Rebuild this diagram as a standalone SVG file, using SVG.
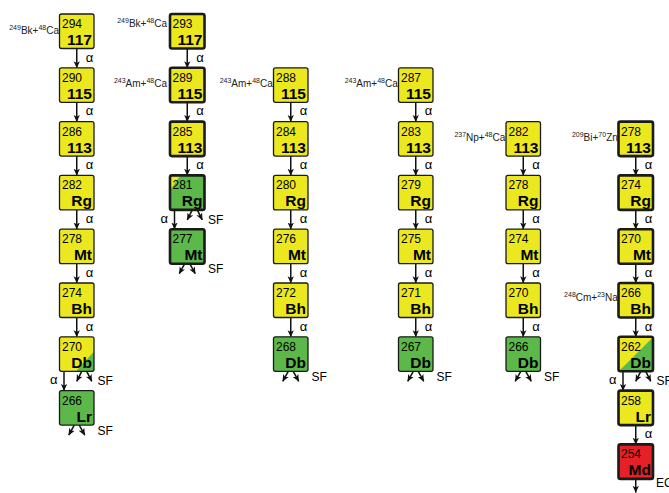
<svg xmlns="http://www.w3.org/2000/svg" width="669" height="493" viewBox="0 0 669 493">
<defs>
<marker id="ah" viewBox="0 0 10 10" refX="9.5" refY="5" markerWidth="7" markerHeight="7" markerUnits="userSpaceOnUse" orient="auto">
<path d="M0,0.5 L10,5 L0,9.5 L2.5,5 z" fill="#111"/>
</marker>
</defs>
<style>
.bx{stroke:#1a1a1a;stroke-width:1.3}
.thick .bx{stroke-width:2.6}
.ol{fill:none}
.y{fill:#ece81f}
.g{fill:#5cb848}
.r{fill:#e52127}
text{font-family:"Liberation Sans",Arial,sans-serif;fill:#000}
.m{font-size:12px}
.s{font-size:15.5px;font-weight:bold;text-anchor:end}
.lab{font-size:10px;text-anchor:end;fill:#222}
.sup{font-size:7px}
.a{font-size:13px}
.ae{font-size:13px;text-anchor:end}
.sf{font-size:12px}
#connectors line{stroke:#111;stroke-width:1.5;marker-end:url(#ah)}
</style>
<rect width="669" height="493" fill="#fff"/>

<g id="connectors">
<!-- column 1 -->
<line x1="76.75" y1="48.5" x2="76.75" y2="67.8"/>
<line x1="76.75" y1="102.3" x2="76.75" y2="121.6"/>
<line x1="76.75" y1="156.1" x2="76.75" y2="175.4"/>
<line x1="76.75" y1="209.9" x2="76.75" y2="229.2"/>
<line x1="76.75" y1="263.7" x2="76.75" y2="283"/>
<line x1="76.75" y1="317.5" x2="76.75" y2="336.8"/>
<line x1="64" y1="371.3" x2="64" y2="390.6"/>
<line x1="81.75" y1="371.3" x2="76.75" y2="381.3"/>
<line x1="86.75" y1="371.3" x2="91.75" y2="381.3"/>
<line x1="74.25" y1="425.1" x2="68.75" y2="435.1"/>
<line x1="79.25" y1="425.1" x2="84.75" y2="435.1"/>
<!-- column 2 -->
<line x1="187.25" y1="48.5" x2="187.25" y2="67.8"/>
<line x1="187.25" y1="102.3" x2="187.25" y2="121.6"/>
<line x1="187.25" y1="156.1" x2="187.25" y2="175.4"/>
<line x1="174.5" y1="209.9" x2="174.5" y2="229.2"/>
<line x1="192.25" y1="209.9" x2="187.25" y2="219.9"/>
<line x1="197.25" y1="209.9" x2="202.25" y2="219.9"/>
<line x1="184.75" y1="263.7" x2="179.25" y2="273.7"/>
<line x1="189.75" y1="263.7" x2="195.25" y2="273.7"/>
<!-- column 3 -->
<line x1="290.75" y1="102.3" x2="290.75" y2="121.6"/>
<line x1="290.75" y1="156.1" x2="290.75" y2="175.4"/>
<line x1="290.75" y1="209.9" x2="290.75" y2="229.2"/>
<line x1="290.75" y1="263.7" x2="290.75" y2="283"/>
<line x1="290.75" y1="317.5" x2="290.75" y2="336.8"/>
<line x1="288.25" y1="371.3" x2="282.75" y2="381.3"/>
<line x1="293.25" y1="371.3" x2="298.75" y2="381.3"/>
<!-- column 4 -->
<line x1="415.75" y1="102.3" x2="415.75" y2="121.6"/>
<line x1="415.75" y1="156.1" x2="415.75" y2="175.4"/>
<line x1="415.75" y1="209.9" x2="415.75" y2="229.2"/>
<line x1="415.75" y1="263.7" x2="415.75" y2="283"/>
<line x1="415.75" y1="317.5" x2="415.75" y2="336.8"/>
<line x1="413.25" y1="371.3" x2="407.75" y2="381.3"/>
<line x1="418.25" y1="371.3" x2="423.75" y2="381.3"/>
<!-- column 5 -->
<line x1="523.25" y1="156.1" x2="523.25" y2="175.4"/>
<line x1="523.25" y1="209.9" x2="523.25" y2="229.2"/>
<line x1="523.25" y1="263.7" x2="523.25" y2="283"/>
<line x1="523.25" y1="317.5" x2="523.25" y2="336.8"/>
<line x1="520.75" y1="371.3" x2="515.25" y2="381.3"/>
<line x1="525.75" y1="371.3" x2="531.25" y2="381.3"/>
<!-- column 6 -->
<line x1="635.75" y1="156.1" x2="635.75" y2="175.4"/>
<line x1="635.75" y1="209.9" x2="635.75" y2="229.2"/>
<line x1="635.75" y1="263.7" x2="635.75" y2="283"/>
<line x1="635.75" y1="317.5" x2="635.75" y2="336.8"/>
<line x1="623" y1="371.3" x2="623" y2="390.6"/>
<line x1="640.75" y1="371.3" x2="635.75" y2="381.3"/>
<line x1="645.75" y1="371.3" x2="650.75" y2="381.3"/>
<line x1="635.75" y1="425.1" x2="635.75" y2="444.4"/>
<line x1="635.75" y1="478.9" x2="635.75" y2="492.5"/>
<!-- labels -->
<text class="a" x="85.75" y="61.5">α</text>
<text class="a" x="85.75" y="115.3">α</text>
<text class="a" x="85.75" y="169.1">α</text>
<text class="a" x="85.75" y="222.9">α</text>
<text class="a" x="85.75" y="276.7">α</text>
<text class="a" x="85.75" y="330.5">α</text>
<text class="ae" x="57.5" y="384.3">α</text>
<text class="sf" x="97.5" y="385.3">SF</text>
<text class="sf" x="97.5" y="434.6">SF</text>
<text class="a" x="196.25" y="61.5">α</text>
<text class="a" x="196.25" y="115.3">α</text>
<text class="a" x="196.25" y="169.1">α</text>
<text class="ae" x="168" y="222.9">α</text>
<text class="sf" x="208" y="223.9">SF</text>
<text class="sf" x="208" y="273.2">SF</text>
<text class="a" x="299.75" y="115.3">α</text>
<text class="a" x="299.75" y="169.1">α</text>
<text class="a" x="299.75" y="222.9">α</text>
<text class="a" x="299.75" y="276.7">α</text>
<text class="a" x="299.75" y="330.5">α</text>
<text class="sf" x="311.5" y="380.8">SF</text>
<text class="a" x="424.75" y="115.3">α</text>
<text class="a" x="424.75" y="169.1">α</text>
<text class="a" x="424.75" y="222.9">α</text>
<text class="a" x="424.75" y="276.7">α</text>
<text class="a" x="424.75" y="330.5">α</text>
<text class="sf" x="436.5" y="380.8">SF</text>
<text class="a" x="532.25" y="169.1">α</text>
<text class="a" x="532.25" y="222.9">α</text>
<text class="a" x="532.25" y="276.7">α</text>
<text class="a" x="532.25" y="330.5">α</text>
<text class="sf" x="544" y="380.8">SF</text>
<text class="a" x="644.75" y="169.1">α</text>
<text class="a" x="644.75" y="222.9">α</text>
<text class="a" x="644.75" y="276.7">α</text>
<text class="a" x="644.75" y="330.5">α</text>
<text class="ae" x="616.5" y="384.3">α</text>
<text class="sf" x="656.5" y="385.3">SF</text>
<text class="a" x="644.75" y="438.1">α</text>
<text class="sf" x="656" y="487">EC</text>
</g>

<g id="reactions">
<text class="lab" x="59" y="34"><tspan class="sup" dy="-4">249</tspan><tspan dy="4">Bk+</tspan><tspan class="sup" dy="-4">48</tspan><tspan dy="4">Ca</tspan></text>
<text class="lab" x="167" y="26.5"><tspan class="sup" dy="-4">249</tspan><tspan dy="4">Bk+</tspan><tspan class="sup" dy="-4">48</tspan><tspan dy="4">Ca</tspan></text>
<text class="lab" x="167" y="87.3"><tspan class="sup" dy="-4">243</tspan><tspan dy="4">Am+</tspan><tspan class="sup" dy="-4">48</tspan><tspan dy="4">Ca</tspan></text>
<text class="lab" x="272.8" y="87.3"><tspan class="sup" dy="-4">243</tspan><tspan dy="4">Am+</tspan><tspan class="sup" dy="-4">48</tspan><tspan dy="4">Ca</tspan></text>
<text class="lab" x="397.8" y="87.3"><tspan class="sup" dy="-4">243</tspan><tspan dy="4">Am+</tspan><tspan class="sup" dy="-4">48</tspan><tspan dy="4">Ca</tspan></text>
<text class="lab" x="505.3" y="140.7"><tspan class="sup" dy="-4">237</tspan><tspan dy="4">Np+</tspan><tspan class="sup" dy="-4">48</tspan><tspan dy="4">Ca</tspan></text>
<text class="lab" x="617.8" y="140.7"><tspan class="sup" dy="-4">209</tspan><tspan dy="4">Bi+</tspan><tspan class="sup" dy="-4">70</tspan><tspan dy="4">Zn</tspan></text>
<text class="lab" x="617.8" y="300.5"><tspan class="sup" dy="-4">248</tspan><tspan dy="4">Cm+</tspan><tspan class="sup" dy="-4">23</tspan><tspan dy="4">Na</tspan></text>
</g>

<!-- column 1 (thin) -->
<g id="n294"><rect class="bx y" x="59.5" y="14" width="34.5" height="34.5" rx="2"/><text class="m" x="62" y="28">294</text><text class="s" x="92" y="45">117</text></g>
<g id="n290"><rect class="bx y" x="59.5" y="67.8" width="34.5" height="34.5" rx="2"/><text class="m" x="62" y="81.8">290</text><text class="s" x="92" y="98.8">115</text></g>
<g id="n286"><rect class="bx y" x="59.5" y="121.6" width="34.5" height="34.5" rx="2"/><text class="m" x="62" y="135.6">286</text><text class="s" x="92" y="152.6">113</text></g>
<g id="n282rg"><rect class="bx y" x="59.5" y="175.4" width="34.5" height="34.5" rx="2"/><text class="m" x="62" y="189.4">282</text><text class="s" x="92" y="206.4">Rg</text></g>
<g id="n278mt"><rect class="bx y" x="59.5" y="229.2" width="34.5" height="34.5" rx="2"/><text class="m" x="62" y="243.2">278</text><text class="s" x="92" y="260.2">Mt</text></g>
<g id="n274bh"><rect class="bx y" x="59.5" y="283" width="34.5" height="34.5" rx="2"/><text class="m" x="62" y="297">274</text><text class="s" x="92" y="314">Bh</text></g>
<g id="n270db"><rect class="y" x="59.5" y="336.8" width="34.5" height="34.5" rx="2"/><polygon class="g" points="76,371.3 94,351.5 94,371.3"/><rect class="bx ol" x="59.5" y="336.8" width="34.5" height="34.5" rx="2"/><text class="m" x="62" y="350.8">270</text><text class="s" x="92" y="367.8">Db</text></g>
<g id="n266lr"><rect class="bx g" x="59.5" y="390.6" width="34.5" height="34.5" rx="2"/><text class="m" x="62" y="404.6">266</text><text class="s" x="92" y="421.6">Lr</text></g>

<!-- column 2 (thick) -->
<g class="thick">
<g id="n293"><rect class="bx y" x="170" y="14" width="34.5" height="34.5" rx="2"/><text class="m" x="172.5" y="28">293</text><text class="s" x="202.5" y="45">117</text></g>
<g id="n289"><rect class="bx y" x="170" y="67.8" width="34.5" height="34.5" rx="2"/><text class="m" x="172.5" y="81.8">289</text><text class="s" x="202.5" y="98.8">115</text></g>
<g id="n285"><rect class="bx y" x="170" y="121.6" width="34.5" height="34.5" rx="2"/><text class="m" x="172.5" y="135.6">285</text><text class="s" x="202.5" y="152.6">113</text></g>
<g id="n281rg"><rect class="g" x="170" y="175.4" width="34.5" height="34.5" rx="2"/><polygon class="y" points="170.5,175.9 180,175.9 170.5,189.5"/><rect class="bx ol" x="170" y="175.4" width="34.5" height="34.5" rx="2"/><text class="m" x="172.5" y="189.4">281</text><text class="s" x="202.5" y="206.4">Rg</text></g>
<g id="n277mt"><rect class="bx g" x="170" y="229.2" width="34.5" height="34.5" rx="2"/><text class="m" x="172.5" y="243.2">277</text><text class="s" x="202.5" y="260.2">Mt</text></g>
</g>

<!-- column 3 -->
<g id="n288"><rect class="bx y" x="273.5" y="67.8" width="34.5" height="34.5" rx="2"/><text class="m" x="276" y="81.8">288</text><text class="s" x="306" y="98.8">115</text></g>
<g id="n284"><rect class="bx y" x="273.5" y="121.6" width="34.5" height="34.5" rx="2"/><text class="m" x="276" y="135.6">284</text><text class="s" x="306" y="152.6">113</text></g>
<g id="n280rg"><rect class="bx y" x="273.5" y="175.4" width="34.5" height="34.5" rx="2"/><text class="m" x="276" y="189.4">280</text><text class="s" x="306" y="206.4">Rg</text></g>
<g id="n276mt"><rect class="bx y" x="273.5" y="229.2" width="34.5" height="34.5" rx="2"/><text class="m" x="276" y="243.2">276</text><text class="s" x="306" y="260.2">Mt</text></g>
<g id="n272bh"><rect class="bx y" x="273.5" y="283" width="34.5" height="34.5" rx="2"/><text class="m" x="276" y="297">272</text><text class="s" x="306" y="314">Bh</text></g>
<g id="n268db"><rect class="bx g" x="273.5" y="336.8" width="34.5" height="34.5" rx="2"/><text class="m" x="276" y="350.8">268</text><text class="s" x="306" y="367.8">Db</text></g>

<!-- column 4 -->
<g id="n287"><rect class="bx y" x="398.5" y="67.8" width="34.5" height="34.5" rx="2"/><text class="m" x="401" y="81.8">287</text><text class="s" x="431" y="98.8">115</text></g>
<g id="n283"><rect class="bx y" x="398.5" y="121.6" width="34.5" height="34.5" rx="2"/><text class="m" x="401" y="135.6">283</text><text class="s" x="431" y="152.6">113</text></g>
<g id="n279rg"><rect class="bx y" x="398.5" y="175.4" width="34.5" height="34.5" rx="2"/><text class="m" x="401" y="189.4">279</text><text class="s" x="431" y="206.4">Rg</text></g>
<g id="n275mt"><rect class="bx y" x="398.5" y="229.2" width="34.5" height="34.5" rx="2"/><text class="m" x="401" y="243.2">275</text><text class="s" x="431" y="260.2">Mt</text></g>
<g id="n271bh"><rect class="bx y" x="398.5" y="283" width="34.5" height="34.5" rx="2"/><text class="m" x="401" y="297">271</text><text class="s" x="431" y="314">Bh</text></g>
<g id="n267db"><rect class="bx g" x="398.5" y="336.8" width="34.5" height="34.5" rx="2"/><text class="m" x="401" y="350.8">267</text><text class="s" x="431" y="367.8">Db</text></g>

<!-- column 5 -->
<g id="n282"><rect class="bx y" x="506" y="121.6" width="34.5" height="34.5" rx="2"/><text class="m" x="508.5" y="135.6">282</text><text class="s" x="538.5" y="152.6">113</text></g>
<g id="n278rg"><rect class="bx y" x="506" y="175.4" width="34.5" height="34.5" rx="2"/><text class="m" x="508.5" y="189.4">278</text><text class="s" x="538.5" y="206.4">Rg</text></g>
<g id="n274mt"><rect class="bx y" x="506" y="229.2" width="34.5" height="34.5" rx="2"/><text class="m" x="508.5" y="243.2">274</text><text class="s" x="538.5" y="260.2">Mt</text></g>
<g id="n270bh"><rect class="bx y" x="506" y="283" width="34.5" height="34.5" rx="2"/><text class="m" x="508.5" y="297">270</text><text class="s" x="538.5" y="314">Bh</text></g>
<g id="n266db"><rect class="bx g" x="506" y="336.8" width="34.5" height="34.5" rx="2"/><text class="m" x="508.5" y="350.8">266</text><text class="s" x="538.5" y="367.8">Db</text></g>

<!-- column 6 (thick) -->
<g class="thick">
<g id="n278"><rect class="bx y" x="618.5" y="121.6" width="34.5" height="34.5" rx="2"/><text class="m" x="621" y="135.6">278</text><text class="s" x="651" y="152.6">113</text></g>
<g id="n274rg"><rect class="bx y" x="618.5" y="175.4" width="34.5" height="34.5" rx="2"/><text class="m" x="621" y="189.4">274</text><text class="s" x="651" y="206.4">Rg</text></g>
<g id="n270mt"><rect class="bx y" x="618.5" y="229.2" width="34.5" height="34.5" rx="2"/><text class="m" x="621" y="243.2">270</text><text class="s" x="651" y="260.2">Mt</text></g>
<g id="n266bh"><rect class="bx y" x="618.5" y="283" width="34.5" height="34.5" rx="2"/><text class="m" x="621" y="297">266</text><text class="s" x="651" y="314">Bh</text></g>
<g id="n262db"><rect class="y" x="618.5" y="336.8" width="34.5" height="34.5" rx="2"/><polygon class="g" points="619,371 653,337.3 653,371"/><rect class="bx ol" x="618.5" y="336.8" width="34.5" height="34.5" rx="2"/><text class="m" x="621" y="350.8">262</text><text class="s" x="651" y="367.8">Db</text></g>
<g id="n258lr"><rect class="bx y" x="618.5" y="390.6" width="34.5" height="34.5" rx="2"/><text class="m" x="621" y="404.6">258</text><text class="s" x="651" y="421.6">Lr</text></g>
<g id="n254md"><rect class="bx r" x="618.5" y="444.4" width="34.5" height="34.5" rx="2"/><text class="m" x="621" y="458.4">254</text><text class="s" x="651" y="475.4">Md</text></g>
</g>
</svg>
